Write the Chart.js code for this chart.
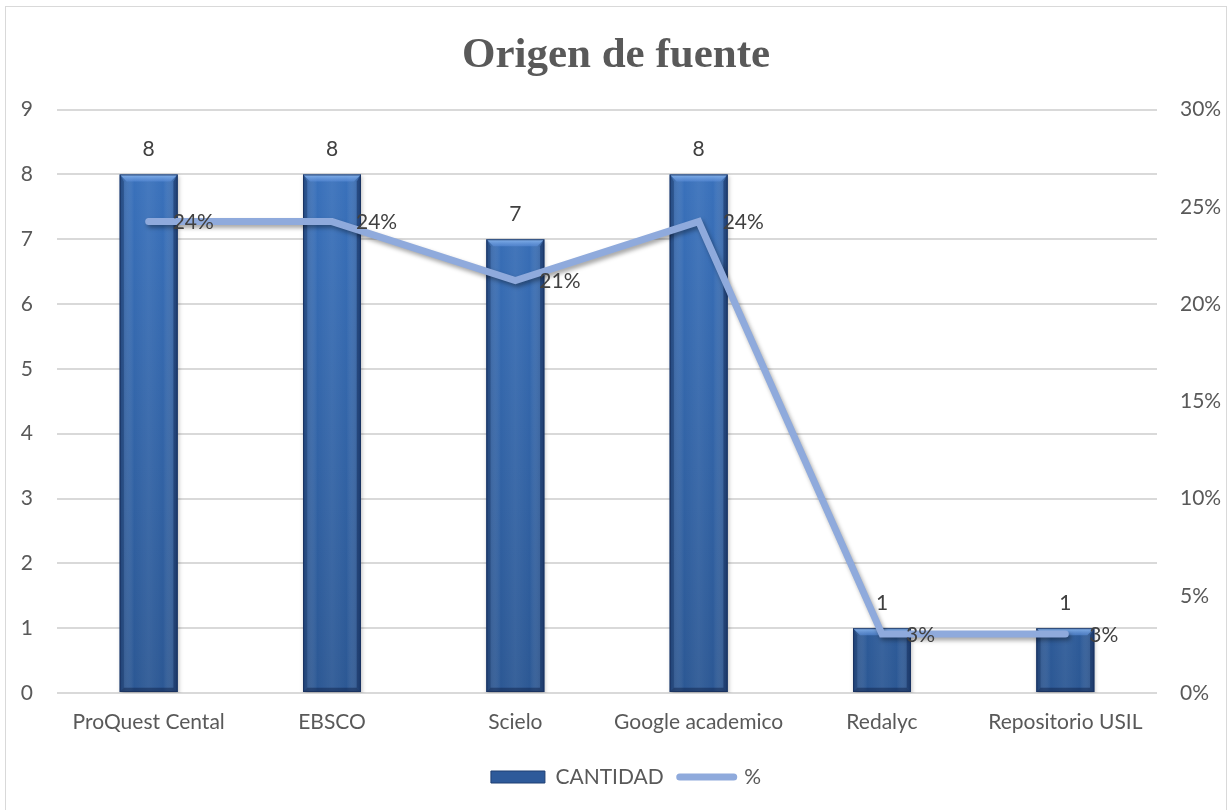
<!DOCTYPE html>
<html>
<head>
<meta charset="utf-8">
<script src="https://cdn.jsdelivr.net/npm/chart.js@4.4.0/dist/chart.umd.min.js"></script>
<style>
  html, body { margin: 0; padding: 0; background: #ffffff; overflow: hidden; }
  #wrap { position: relative; width: 1232px; height: 810px; }
  #c { position: absolute; left: 0; top: 0; }
  #frame { position: absolute; left: 5px; top: 6px; width: 1220px; height: 820px;
           border: 1.5px solid #d9d9d9; pointer-events: none; }
</style>
</head>
<body>
<div id="wrap">
  <canvas id="c" width="1232" height="810"></canvas>
  <div id="frame"></div>
</div>
<script>
const titleText = 'Origen de fuente';
const categories = ['ProQuest Cental', 'EBSCO', 'Scielo', 'Google academico', 'Redalyc', 'Repositorio USIL'];
const cantidad = [8, 8, 7, 8, 1, 1];
const porcentaje = [24.24, 24.24, 21.21, 24.24, 3.03, 3.03];
const seriesNames = ['CANTIDAD', '%'];
const leftAxis = { min: 0, max: 9, step: 1 };
const rightAxis = { min: 0, max: 30, step: 5 };

const TEXT = '#595959';
const LABEL = '#404040';
const LINE_COLOR = '#8FAADC';
const FONT = 'Lato, "Open Sans", sans-serif';
const FS = 21;

const shadowPlugin = {
  id: 'shadows',
  beforeDatasetDraw(chart, args) {
    const ctx = chart.ctx;
    ctx.save();
    if (args.meta.type === 'line') {
      ctx.shadowColor = 'rgba(0,0,0,0.35)';
      ctx.shadowBlur = 4;
      ctx.shadowOffsetX = 2;
      ctx.shadowOffsetY = 3;
    } else {
      ctx.shadowColor = 'rgba(0,0,0,0.25)';
      ctx.shadowBlur = 4;
      ctx.shadowOffsetX = 1;
      ctx.shadowOffsetY = 2;
    }
  },
  afterDatasetDraw(chart, args) {
    const ctx = chart.ctx;
    ctx.restore();
    if (args.meta.type !== 'bar') return;
    // bevel overlay on each bar, using the library's element geometry
    args.meta.data.forEach(el => {
      const p = el.getProps(['x', 'y', 'base', 'width'], true);
      const l = p.x - p.width / 2, r = p.x + p.width / 2, t = p.y, b = p.base;
      const bv = Math.min(7, (b - t) / 3);
      ctx.save();
      const g = ctx.createLinearGradient(l, 0, r, 0);
      g.addColorStop(0, 'rgba(20,45,90,0.35)');
      g.addColorStop(0.25, 'rgba(255,255,255,0.0)');
      g.addColorStop(0.5, 'rgba(255,255,255,0.06)');
      g.addColorStop(0.75, 'rgba(255,255,255,0.0)');
      g.addColorStop(1, 'rgba(20,45,90,0.35)');
      ctx.fillStyle = g;
      ctx.fillRect(l, t, r - l, b - t);
      ctx.beginPath();
      ctx.moveTo(l, t); ctx.lineTo(r, t); ctx.lineTo(r - bv, t + bv); ctx.lineTo(l + bv, t + bv); ctx.closePath();
      const gt = ctx.createLinearGradient(0, t, 0, t + bv);
      gt.addColorStop(0, 'rgba(140,185,240,0.95)');
      gt.addColorStop(1, 'rgba(90,140,215,0.6)');
      ctx.fillStyle = gt; ctx.fill();
      ctx.beginPath();
      ctx.moveTo(l, t); ctx.lineTo(l + bv * 0.6, t + bv); ctx.lineTo(l + bv * 0.6, b - bv * 0.6); ctx.lineTo(l, b); ctx.closePath();
      ctx.fillStyle = 'rgba(25,55,105,0.45)'; ctx.fill();
      ctx.beginPath();
      ctx.moveTo(r, t); ctx.lineTo(r - bv * 0.6, t + bv); ctx.lineTo(r - bv * 0.6, b - bv * 0.6); ctx.lineTo(r, b); ctx.closePath();
      ctx.fillStyle = 'rgba(15,40,85,0.5)'; ctx.fill();
      ctx.beginPath();
      ctx.moveTo(l, b); ctx.lineTo(l + bv * 0.6, b - bv * 0.6); ctx.lineTo(r - bv * 0.6, b - bv * 0.6); ctx.lineTo(r, b); ctx.closePath();
      ctx.fillStyle = 'rgba(15,35,75,0.5)'; ctx.fill();
      ctx.strokeStyle = 'rgba(25,50,95,0.9)';
      ctx.lineWidth = 1;
      ctx.strokeRect(l + 0.5, t + 0.5, r - l - 1, b - t - 1);
      ctx.restore();
    });
  }
};

const labelPlugin = {
  id: 'valueLabels',
  afterDatasetsDraw(chart) {
    const ctx = chart.ctx;
    ctx.save();
    ctx.font = FS + 'px ' + FONT;
    ctx.fillStyle = LABEL;
    const barMeta = chart.getDatasetMeta(0);
    barMeta.data.forEach((el, i) => {
      ctx.textAlign = 'center';
      ctx.textBaseline = 'middle';
      ctx.fillText(String(cantidad[i]), el.x, el.y - 25);
    });
    const lineMeta = chart.getDatasetMeta(1);
    lineMeta.data.forEach((el, i) => {
      ctx.textAlign = 'left';
      ctx.textBaseline = 'middle';
      ctx.fillText(Math.round(porcentaje[i]) + '%', el.x + 24, el.y + 1);
    });
    ctx.restore();
  }
};

// nudge the legend block slightly to the right, as in the original
const legendShift = {
  id: 'legendShift',
  beforeDraw(chart) {
    const lg = chart.legend;
    if (lg && !lg._shifted) {
      lg.left += 10; lg.right += 10;
      lg._shifted = true;
    }
  },
  afterLayout(chart) {
    if (chart.legend) chart.legend._shifted = false;
  }
};

const ctx = document.getElementById('c').getContext('2d');

function barGradient(context) {
  const chart = context.chart;
  const area = chart.chartArea;
  if (!area) return '#2F5C9E';
  const g = chart.ctx.createLinearGradient(0, area.top, 0, area.bottom);
  g.addColorStop(0, '#3B74C0');
  g.addColorStop(1, '#2C5894');
  return g;
}

new Chart(ctx, {
  data: {
    labels: categories,
    datasets: [
      {
        type: 'bar',
        label: seriesNames[0],
        data: cantidad,
        yAxisID: 'y',
        order: 1,
        backgroundColor: barGradient,
        borderWidth: 0,
        barPercentage: 1,
        categoryPercentage: 0.316
      },
      {
        type: 'line',
        label: seriesNames[1],
        data: porcentaje,
        yAxisID: 'y1',
        order: 0,
        borderColor: LINE_COLOR,
        backgroundColor: LINE_COLOR,
        borderWidth: 7,
        borderCapStyle: 'round',
        borderJoinStyle: 'miter',
        pointRadius: 0,
        pointHoverRadius: 0,
        tension: 0,
        fill: false
      }
    ]
  },
  options: {
    responsive: false,
    devicePixelRatio: 1,
    animation: false,
    events: [],
    layout: { padding: { left: 0, right: 0, top: 0, bottom: 12.5 } },
    plugins: {
      title: {
        display: true,
        text: titleText,
        color: TEXT,
        font: { family: '"Liberation Serif", "Times New Roman", serif', size: 43, weight: 'bold', lineHeight: 1.2 },
        padding: { top: 30, bottom: 28 }
      },
      legend: {
        display: true,
        position: 'bottom',
        labels: {
          color: TEXT,
          font: { family: FONT, size: FS },
          usePointStyle: true,
          pointStyleWidth: 54,
          boxHeight: 12,
          padding: 16,
          generateLabels(chart) {
            return [
              { text: seriesNames[0], fillStyle: '#2E5A9A', strokeStyle: '#1F3F73', lineWidth: 1,
                pointStyle: 'rect', datasetIndex: 0, hidden: false, fontColor: TEXT },
              { text: seriesNames[1], fillStyle: LINE_COLOR, strokeStyle: LINE_COLOR, lineWidth: 7,
                lineCap: 'round', pointStyle: 'line', datasetIndex: 1, hidden: false, fontColor: TEXT }
            ];
          }
        }
      },
      tooltip: { enabled: false }
    },
    scales: {
      x: {
        grid: { display: false, drawTicks: false },
        border: { display: false },
        ticks: { color: TEXT, font: { family: FONT, size: FS }, padding: 17, maxRotation: 0, autoSkip: false },
        afterFit(scale) { scale.height = 57.5; }
      },
      y: {
        position: 'left',
        min: leftAxis.min, max: leftAxis.max,
        grid: { color: '#d9d9d9', lineWidth: 2, drawTicks: false },
        border: { display: false },
        ticks: { stepSize: leftAxis.step, color: TEXT, font: { family: FONT, size: FS }, padding: 24 },
        afterFit(scale) { scale.width = 57; }
      },
      y1: {
        position: 'right',
        min: rightAxis.min, max: rightAxis.max,
        grid: { display: false, drawTicks: false },
        border: { display: false },
        ticks: { stepSize: rightAxis.step, color: TEXT, font: { family: FONT, size: FS }, padding: 23,
                 callback: v => v + '%' },
        afterFit(scale) { scale.width = 75; }
      }
    }
  },
  plugins: [shadowPlugin, labelPlugin, legendShift]
});
</script>
</body>
</html>
